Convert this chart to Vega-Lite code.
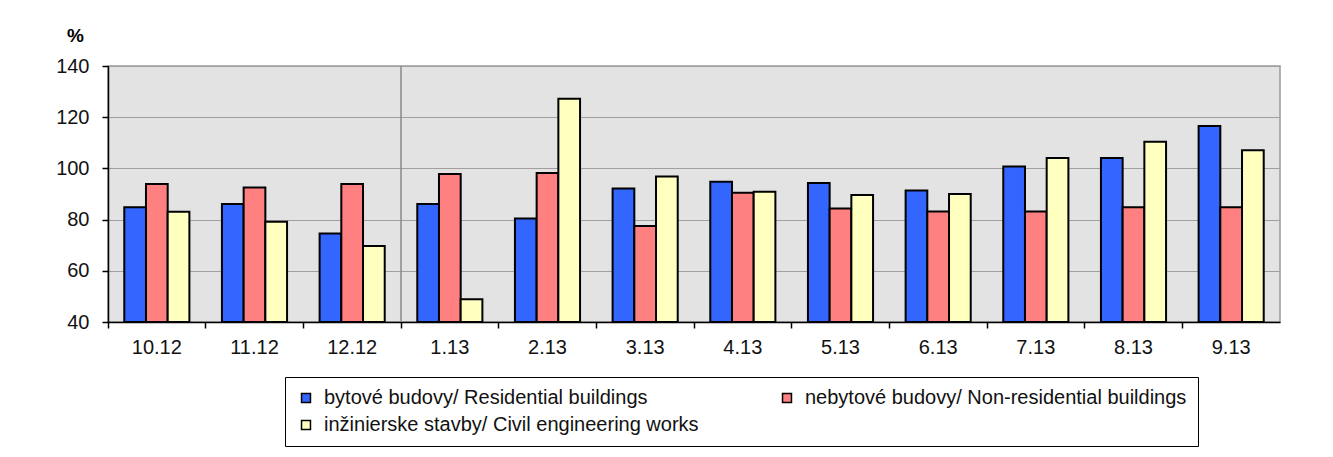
{
  "$schema": "https://vega.github.io/schema/vega-lite/v6.json",
  "width": 1172,
  "height": 256,
  "autosize": {"type": "none"},
  "padding": {"left": 108, "top": 66, "right": 53, "bottom": 135},
  "background": "white",
  "config": {
    "font": "Liberation Sans",
    "view": {"fill": "#e3e3e3", "stroke": "#9a9a9a", "strokeWidth": 1.5}
  },
  "data": {
    "values": [
      {"month": "10.12", "series": "bytové budovy/ Residential buildings", "value": 84.8},
      {"month": "10.12", "series": "nebytové budovy/ Non-residential buildings", "value": 93.9},
      {"month": "10.12", "series": "inžinierske stavby/ Civil engineering works", "value": 83.1},
      {"month": "11.12", "series": "bytové budovy/ Residential buildings", "value": 86.1},
      {"month": "11.12", "series": "nebytové budovy/ Non-residential buildings", "value": 92.5},
      {"month": "11.12", "series": "inžinierske stavby/ Civil engineering works", "value": 79.2},
      {"month": "12.12", "series": "bytové budovy/ Residential buildings", "value": 74.6},
      {"month": "12.12", "series": "nebytové budovy/ Non-residential buildings", "value": 93.9},
      {"month": "12.12", "series": "inžinierske stavby/ Civil engineering works", "value": 69.7},
      {"month": "1.13", "series": "bytové budovy/ Residential buildings", "value": 86.1},
      {"month": "1.13", "series": "nebytové budovy/ Non-residential buildings", "value": 97.8},
      {"month": "1.13", "series": "inžinierske stavby/ Civil engineering works", "value": 48.9},
      {"month": "2.13", "series": "bytové budovy/ Residential buildings", "value": 80.4},
      {"month": "2.13", "series": "nebytové budovy/ Non-residential buildings", "value": 98.2},
      {"month": "2.13", "series": "inžinierske stavby/ Civil engineering works", "value": 127.2},
      {"month": "3.13", "series": "bytové budovy/ Residential buildings", "value": 92.1},
      {"month": "3.13", "series": "nebytové budovy/ Non-residential buildings", "value": 77.5},
      {"month": "3.13", "series": "inžinierske stavby/ Civil engineering works", "value": 96.8},
      {"month": "4.13", "series": "bytové budovy/ Residential buildings", "value": 94.8},
      {"month": "4.13", "series": "nebytové budovy/ Non-residential buildings", "value": 90.5},
      {"month": "4.13", "series": "inžinierske stavby/ Civil engineering works", "value": 90.9},
      {"month": "5.13", "series": "bytové budovy/ Residential buildings", "value": 94.3},
      {"month": "5.13", "series": "nebytové budovy/ Non-residential buildings", "value": 84.3},
      {"month": "5.13", "series": "inžinierske stavby/ Civil engineering works", "value": 89.6},
      {"month": "6.13", "series": "bytové budovy/ Residential buildings", "value": 91.4},
      {"month": "6.13", "series": "nebytové budovy/ Non-residential buildings", "value": 83.2},
      {"month": "6.13", "series": "inžinierske stavby/ Civil engineering works", "value": 90.0},
      {"month": "7.13", "series": "bytové budovy/ Residential buildings", "value": 100.7},
      {"month": "7.13", "series": "nebytové budovy/ Non-residential buildings", "value": 83.2},
      {"month": "7.13", "series": "inžinierske stavby/ Civil engineering works", "value": 104.1},
      {"month": "8.13", "series": "bytové budovy/ Residential buildings", "value": 104.1},
      {"month": "8.13", "series": "nebytové budovy/ Non-residential buildings", "value": 84.8},
      {"month": "8.13", "series": "inžinierske stavby/ Civil engineering works", "value": 110.4},
      {"month": "9.13", "series": "bytové budovy/ Residential buildings", "value": 116.6},
      {"month": "9.13", "series": "nebytové budovy/ Non-residential buildings", "value": 84.8},
      {"month": "9.13", "series": "inžinierske stavby/ Civil engineering works", "value": 107.1}
    ]
  },
  "layer": [
    {
      "mark": {"type": "bar", "stroke": "black", "strokeWidth": 2},
      "encoding": {
        "x": {
          "field": "month",
          "type": "nominal",
          "sort": ["10.12", "11.12", "12.12", "1.13", "2.13", "3.13", "4.13", "5.13", "6.13", "7.13", "8.13", "9.13"],
          "scale": {"paddingInner": 0, "paddingOuter": 0},
          "axis": {
            "title": null,
            "labelAngle": 0,
            "labelFontSize": 20,
            "labelColor": "#111111",
            "labelPadding": 9,
            "labelAlign": "center",
            "domainColor": "black",
            "domainWidth": 1.5,
            "tickColor": "black",
            "tickWidth": 1.5,
            "tickSize": 6,
            "bandPosition": 0,
            "grid": false
          }
        },
        "xOffset": {
          "field": "series",
          "type": "nominal",
          "sort": ["bytové budovy/ Residential buildings", "nebytové budovy/ Non-residential buildings", "inžinierske stavby/ Civil engineering works"],
          "scale": {"paddingInner": 0, "paddingOuter": 0.75}
        },
        "y": {
          "field": "value",
          "type": "quantitative",
          "scale": {"domain": [40, 140], "nice": false, "zero": false},
          "axis": {
            "values": [40, 60, 80, 100, 120, 140],
            "grid": true,
            "gridColor": "#a0a0a0",
            "gridWidth": 1.2,
            "domainColor": "black",
            "domainWidth": 1.5,
            "tickColor": "black",
            "tickWidth": 1.5,
            "tickSize": 6,
            "labelFontSize": 20,
            "labelColor": "#111111",
            "labelPadding": 13,
            "title": "%",
            "titleAngle": 0,
            "titleX": -33,
            "titleY": -31,
            "titleFontSize": 19,
            "titleFontWeight": "bold",
            "titleColor": "black",
            "titleAlign": "center",
            "titleBaseline": "middle"
          }
        },
        "y2": {"datum": 40},
        "color": {
          "field": "series",
          "type": "nominal",
          "sort": ["bytové budovy/ Residential buildings", "nebytové budovy/ Non-residential buildings", "inžinierske stavby/ Civil engineering works"],
          "scale": {
            "domain": ["bytové budovy/ Residential buildings", "nebytové budovy/ Non-residential buildings", "inžinierske stavby/ Civil engineering works"],
            "range": ["#3366ff", "#ff8080", "#ffffc0"]
          },
          "legend": {
            "title": null,
            "orient": "none",
            "legendX": 177,
            "legendY": 311,
            "direction": "horizontal",
            "columns": 2,
            "columnPadding": 78,
            "rowPadding": 7,
            "padding": 11,
            "strokeColor": "black",
            "fillColor": "white",
            "labelFontSize": 20,
            "labelColor": "#111111",
            "labelLimit": 600,
            "labelOffset": 8,
            "symbolType": "square",
            "symbolSize": 80,
            "symbolStrokeColor": "black",
            "symbolStrokeWidth": 1.5
          }
        }
      }
    },
    {
      "data": {"values": [{}]},
      "mark": {"type": "rule", "color": "#8a8a8a", "strokeWidth": 1.5},
      "encoding": {
        "x": {"datum": "1.13", "bandPosition": 0}
      }
    }
  ]
}
